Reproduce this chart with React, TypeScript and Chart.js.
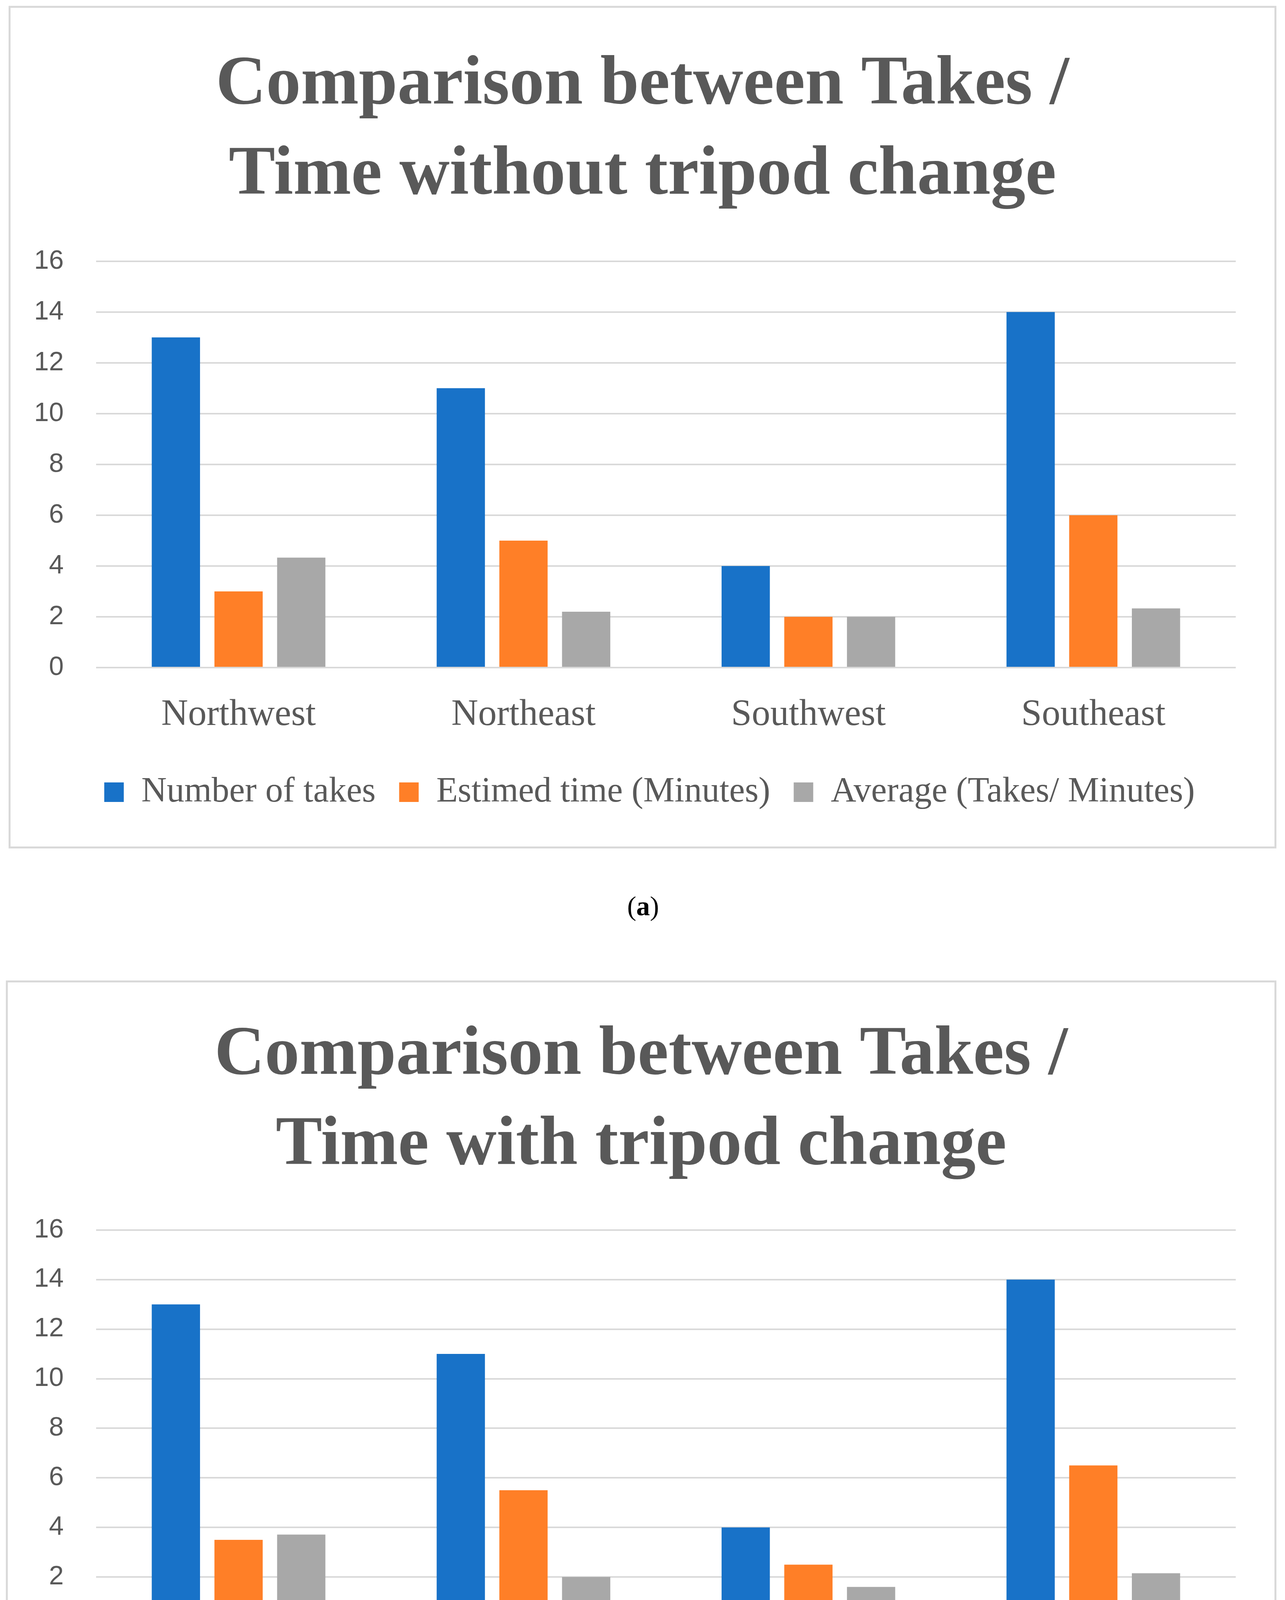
import React, { useEffect, useRef } from "react";
import { Chart, registerables } from "chart.js";

Chart.register(...registerables);

const categories = ["Northwest", "Northeast", "Southwest", "Southeast"];
const seriesNames = ["Number of takes", "Estimed time (Minutes)", "Average (Takes/ Minutes)"];
const seriesColors = ["#1872C8", "#FF7F27", "#A8A8A8"];

const takesA = [13, 11, 4, 14];
const timeA = [3, 5, 2, 6];
const avgA = [4.33, 2.2, 2, 2.33];

const takesB = [13, 11, 4, 14];
const timeB = [3.5, 5.5, 2.5, 6.5];
const avgB = [3.71, 2, 1.6, 2.15];

const titleA = ["Comparison between Takes /", "Time without tripod change"];
const titleB = ["Comparison between Takes /", "Time with tripod change"];

const yMin = 0;
const yMax = 16;
const yStep = 2;

const TEXT = "#595959";
const GRID = "#D9D9D9";
const SERIF = "'Liberation Serif', 'Times New Roman', serif";
const SANS = "'Liberation Sans', Arial, sans-serif";

type Props = {
  left: number;
  top: number;
  width: number;
  height: number;
  title: string[];
  series: number[][];
  pad: { left: number; right: number; top: number; bottom: number };
  titleBottom: number;
  xPad: number;
  xHeight: number;
  yWidth: number;
  legendShift: number;
  titleShift: number;
};

function BarChart(p: Props) {
  const ref = useRef<HTMLCanvasElement | null>(null);
  useEffect(() => {
    if (!ref.current) return;
    const shiftPlugin = {
      id: "shiftBoxes",
      afterLayout(chart: any) {
        if (chart.legend) {
          chart.legend.left += p.legendShift;
          chart.legend.right += p.legendShift;
        }
        if (chart.titleBlock) {
          chart.titleBlock.left += p.titleShift;
          chart.titleBlock.right += p.titleShift;
        }
      },
    };
    const chart = new Chart(ref.current, {
      type: "bar",
      data: {
        labels: categories,
        datasets: p.series.map((d, i) => ({
          label: seriesNames[i],
          data: d,
          backgroundColor: seriesColors[i],
          borderWidth: 0,
          categoryPercentage: 0.66,
          barPercentage: 0.77,
        })),
      },
      plugins: [shiftPlugin],
      options: {
        animation: false,
        responsive: false,
        devicePixelRatio: 1,
        layout: { padding: p.pad },
        plugins: {
          tooltip: { enabled: false },
          title: {
            display: true,
            text: p.title,
            color: TEXT,
            font: { family: SERIF, size: 178, weight: "bold", lineHeight: 1.3 },
            padding: { top: 0, bottom: p.titleBottom },
          },
          legend: {
            display: true,
            position: "bottom",
            labels: {
              color: TEXT,
              font: { family: SERIF, size: 90 },
              boxWidth: 50,
              boxHeight: 50,
              padding: 60,
            },
          },
        },
        scales: {
          x: {
            grid: { display: false, drawTicks: false },
            border: { display: false },
            ticks: {
              color: TEXT,
              font: { family: SERIF, size: 95, lineHeight: 1.2 },
              padding: p.xPad,
              maxRotation: 0,
            },
            afterFit: (s: any) => {
              s.height = p.xHeight;
            },
          },
          y: {
            min: yMin,
            max: yMax,
            grid: { color: GRID, lineWidth: 4, drawTicks: false },
            border: { display: false },
            ticks: {
              stepSize: yStep,
              color: TEXT,
              font: { family: SANS, size: 68 },
              padding: 83,
            },
            afterFit: (s: any) => {
              s.width = p.yWidth;
            },
          },
        },
      },
    });
    return () => chart.destroy();
  }, []);
  return (
    <>
      <div
        style={{
          position: "absolute",
          left: p.left,
          top: p.top,
          width: p.width,
          height: p.height,
          border: `5px solid ${GRID}`,
          boxSizing: "border-box",
          background: "#fff",
        }}
      />
      <canvas
        ref={ref}
        width={p.width}
        height={p.height}
        style={{ position: "absolute", left: p.left, top: p.top, width: p.width, height: p.height }}
      />
    </>
  );
}

function Caption({ letter, y }: { letter: string; y: number }) {
  return (
    <div
      style={{
        position: "absolute",
        left: 0,
        width: 3292,
        top: y - 45,
        height: 90,
        lineHeight: "90px",
        textAlign: "center",
        fontFamily: SERIF,
        fontSize: 70,
        color: "#000",
      }}
    >
      (<b>{letter}</b>)
    </div>
  );
}

export default function App() {
  return (
    <div style={{ position: "absolute", left: 0, top: 0, width: 3289, height: 4823, background: "#fff", overflow: "hidden" }}>
      <BarChart
        left={22}
        top={15}
        width={3245}
        height={2157}
        title={titleA}
        series={[takesA, timeA, avgA]}
        pad={{ left: 50, right: 104, top: 88, bottom: 89 }}
        titleBottom={103}
        xPad={65}
        xHeight={214}
        yWidth={174}
        legendShift={45}
        titleShift={27}
      />
      <Caption letter="a" y={2320} />
      <BarChart
        left={15}
        top={2510}
        width={3252}
        height={2110}
        title={titleB}
        series={[takesB, timeB, avgB]}
        pad={{ left: 50, right: 104, top: 77, bottom: 84 }}
        titleBottom={99}
        xPad={66}
        xHeight={212}
        yWidth={181}
        legendShift={46}
        titleShift={27}
      />
      <Caption letter="b" y={4763} />
    </div>
  );
}
